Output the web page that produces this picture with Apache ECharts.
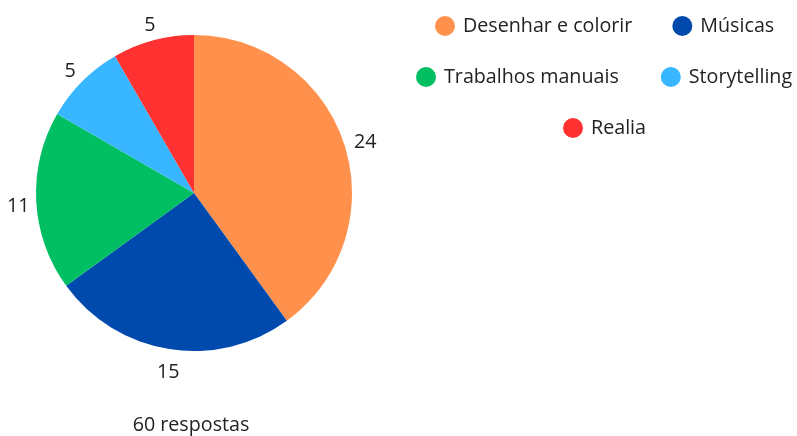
<!DOCTYPE html>
<html>
<head>
<meta charset="utf-8">
<script src="https://cdn.jsdelivr.net/npm/echarts@6/dist/echarts.min.js"></script>
<style>
  html, body { margin: 0; padding: 0; background: #fff; }
  #chart { width: 797px; height: 436px; }
</style>
</head>
<body>
<div id="chart"></div>
<script>
// dados
const categorias = ['Desenhar e colorir', 'Músicas', 'Trabalhos manuais', 'Storytelling', 'Realia'];
const valores = [24, 15, 11, 5, 5];
const cores = ['#FF914D', '#004AAD', '#00BF63', '#38B6FF', '#FF3131'];
const totalTexto = '60 respostas';

// linhas da legenda (cada linha centrada, como no original)
const legendaLinhas = [
  { nomes: ['Desenhar e colorir', 'Músicas'], left: 435, top: 16, gap: 40 },
  { nomes: ['Trabalhos manuais', 'Storytelling'], left: 416, top: 67, gap: 42 },
  { nomes: ['Realia'], left: 563, top: 118, gap: 40 }
];

const fonte = '"Open Sans", sans-serif';
const tamFonte = 19.7;
const dados = categorias.map((nome, i) => ({ name: nome, value: valores[i], itemStyle: { color: cores[i] } }));

const chart = echarts.init(document.getElementById('chart'));

const option = {
  backgroundColor: '#fff',
  animation: false,
  title: {
    text: totalTexto,
    left: 186,
    top: 410,
    textAlign: 'center',
    textStyle: { fontFamily: fonte, fontSize: tamFonte, fontWeight: 'normal', color: '#222' }
  },
  legend: legendaLinhas.map(l => ({
    data: l.nomes,
    orient: 'horizontal',
    left: l.left,
    top: l.top,
    icon: 'circle',
    itemWidth: 20,
    itemHeight: 20,
    itemGap: l.gap,
    padding: 0,
    selectedMode: false,
    textStyle: { fontFamily: fonte, fontSize: tamFonte, color: '#222', padding: [0, 0, 0, 3] }
  })),
  series: [
    {
      name: 'pizza',
      type: 'pie',
      center: [194, 193],
      radius: 158,
      startAngle: 90,
      clockwise: true,
      avoidLabelOverlap: false,
      label: { show: false },
      labelLine: { show: false },
      emphasis: { disabled: true },
      data: dados
    },
    {
      // camada só para posicionar os rótulos fora da pizza, centrados
      name: 'rotulos',
      type: 'pie',
      center: [194, 193],
      radius: [0, 350],
      startAngle: 90,
      clockwise: true,
      silent: true,
      avoidLabelOverlap: false,
      itemStyle: { color: 'rgba(0,0,0,0)' },
      label: {
        show: true,
        position: 'inside',
        formatter: '{c}',
        fontFamily: fonte,
        fontSize: tamFonte,
        color: '#222',
        offset: [2, 4]
      },
      labelLine: { show: false },
      emphasis: { disabled: true },
      data: categorias.map((nome, i) => ({ name: nome, value: valores[i], itemStyle: { color: 'rgba(0,0,0,0)' } }))
    }
  ]
};

chart.setOption(option);
</script>
</body>
</html>
